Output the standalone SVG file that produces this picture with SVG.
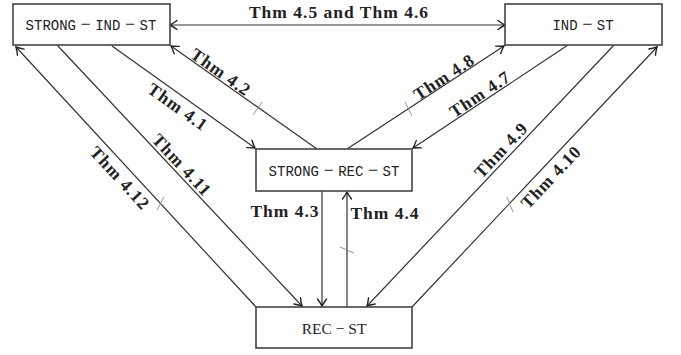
<svg xmlns="http://www.w3.org/2000/svg" width="681" height="355" viewBox="0 0 681 355">
<defs>
<marker id="ah" viewBox="-9 -6 11 12" refX="0" refY="0" markerWidth="11" markerHeight="12" orient="auto-start-reverse" markerUnits="userSpaceOnUse">
<path d="M-7,-4.5 Q-2.5,-1.2 0,0 Q-2.5,1.2 -7,4.5" fill="none" stroke="#222" stroke-width="1.4" stroke-linecap="round"/>
</marker>
</defs>
<style>
.box{fill:#fff;stroke:#444;stroke-width:1.6}
.tt{font-family:"Liberation Mono",monospace;font-size:14px;fill:#222;text-anchor:middle}
.d{font-family:"Liberation Serif",serif;font-size:18px}
.rm{font-family:"Liberation Serif",serif;font-size:15.5px;fill:#222;text-anchor:middle}
.e{stroke:#333;stroke-width:1.2;fill:none}
.a{marker-end:url(#ah)}
.tick{stroke:#888;stroke-width:0.9}
.lb{font-family:"Liberation Serif",serif;font-weight:bold;font-size:17.5px;letter-spacing:1px;fill:#222;text-anchor:middle}
</style>
<rect width="681" height="355" fill="#fff"/>
<g id="edges">
<line class="e" x1="170" y1="25" x2="505" y2="25" marker-start="url(#ah)" marker-end="url(#ah)"/>
<line class="e a" x1="112" y1="46" x2="255" y2="148"/>
<line class="e a" x1="317" y1="149" x2="171" y2="46"/>
<line class="e a" x1="347" y1="149" x2="504" y2="46"/>
<line class="e a" x1="568" y1="45" x2="413" y2="148"/>
<line class="e a" x1="57" y1="45" x2="302" y2="306"/>
<line class="e a" x1="256" y1="307" x2="16" y2="47"/>
<line class="e a" x1="322" y1="191" x2="322" y2="306"/>
<line class="e a" x1="347" y1="307" x2="347" y2="192"/>
<line class="e a" x1="614" y1="45" x2="367" y2="306"/>
<line class="e a" x1="412" y1="307" x2="657" y2="47"/>
<line class="tick" x1="253" y1="115" x2="262" y2="102"/>
<line class="tick" x1="405" y1="102" x2="412" y2="116"/>
<line class="tick" x1="340" y1="247" x2="354" y2="253"/>
<line class="tick" x1="157" y1="210" x2="164" y2="197"/>
<line class="tick" x1="507" y1="197" x2="513" y2="212"/>
<text class="lb" x="339" y="18">Thm 4.5 and Thm 4.6</text>
<text class="lb" x="285" y="217">Thm 4.3</text>
<text class="lb" x="385" y="219">Thm 4.4</text>
<g transform="translate(178,107) rotate(35.5)"><text class="lb" y="6">Thm 4.1</text></g>
<g transform="translate(221,72) rotate(35.3)"><text class="lb" y="6">Thm 4.2</text></g>
<g transform="translate(182,165) rotate(46.9)"><text class="lb" y="6">Thm 4.11</text></g>
<g transform="translate(120,178) rotate(47.3)"><text class="lb" y="6">Thm 4.12</text></g>
<g transform="translate(444,77) rotate(-33.4)"><text class="lb" y="6">Thm 4.8</text></g>
<g transform="translate(480,94) rotate(-33.7)"><text class="lb" y="6">Thm 4.7</text></g>
<g transform="translate(501,150) rotate(-46.7)"><text class="lb" y="6">Thm 4.9</text></g>
<g transform="translate(551,177) rotate(-46.6)"><text class="lb" y="6">Thm 4.10</text></g>
</g>
<g id="strong-ind-st"><rect class="box" x="13" y="4" width="157" height="41"/><text class="tt" x="91" y="30">STRONG<tspan class="d"> − </tspan>IND<tspan class="d"> − </tspan>ST</text></g>
<g id="ind-st"><rect class="box" x="505" y="4" width="157" height="41"/><text class="tt" x="583" y="30">IND<tspan class="d"> − </tspan>ST</text></g>
<g id="strong-rec-st"><rect class="box" x="256" y="149" width="156" height="42"/><text class="tt" x="334" y="176">STRONG<tspan class="d"> − </tspan>REC<tspan class="d"> − </tspan>ST</text></g>
<g id="rec-st"><rect class="box" x="256" y="307" width="156" height="41"/><text class="rm" x="334" y="334">REC − ST</text></g>
</svg>
